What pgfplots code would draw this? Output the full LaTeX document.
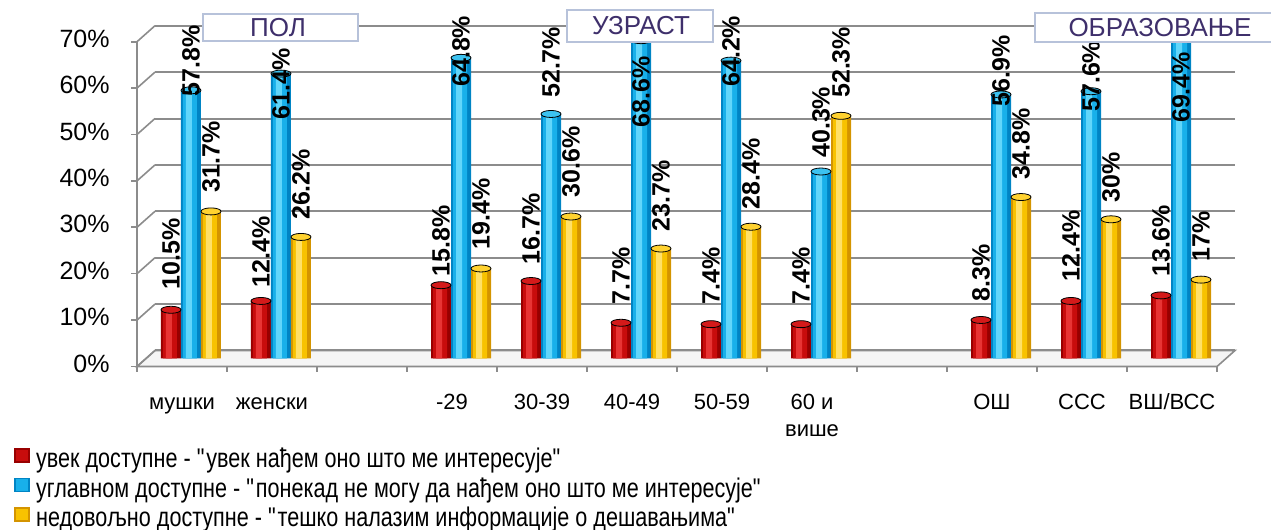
\documentclass[border=0pt]{standalone}
\usepackage{fontspec}
\setmainfont{Liberation Sans}
\newfontfamily\legfont{Liberation Sans}[FakeStretch=0.8]
\usepackage{pgfplots}
\usepackage{pgfplotstable}
\pgfplotsset{compat=1.18}

\definecolor{redE}{HTML}{980000}
\definecolor{redM}{HTML}{C80C0C}
\definecolor{redH}{HTML}{E83434}
\definecolor{redC}{HTML}{D41A1A}
\definecolor{bluE}{HTML}{0084C4}
\definecolor{bluM}{HTML}{18B0EA}
\definecolor{bluH}{HTML}{62D6FA}
\definecolor{bluC}{HTML}{3CC2F0}
\definecolor{yelE}{HTML}{D49400}
\definecolor{yelM}{HTML}{F8C200}
\definecolor{yelH}{HTML}{FFE068}
\definecolor{yelC}{HTML}{FFD230}
\definecolor{gridc}{HTML}{8C8C8C}
\definecolor{boxtxt}{HTML}{3E2F6B}
\definecolor{boxln}{HTML}{B7C2DA}

% values and label start heights (rl, bl, yl)
\pgfplotstableread{
x  red  blue  yellow  rl    bl    yl
0  10.5 57.8  31.7    14.8  56.4  35.7
1  12.4 61.4  26.2    15.2  51.4  29.8
3  15.8 64.8  19.4    17.6  58.5  23.4
4  16.7 52.7  30.6    20.2  56.1  34.6
5  7.7  68.6  23.7    11.5  49.7  27.3
6  7.4  64.2  28.4    11.5  58.5  32.0
7  7.4  40.3  52.3    11.5  43.2  56.1
9  8.3  56.9  34.8    12.2  54.2  38.5
10 12.4 57.6  30      16.5  53.1  33.5
11 13.6 69.4  17      17.6  50.7  20.9
}\datatable

\begin{document}
\begin{tikzpicture}
\begin{axis}[
    ,at={(0pt,0pt)}, anchor=south west
    ,scale only axis, width=540pt, height=162.4pt
    ,xmin=-0.5, xmax=11.5, ymin=0, ymax=70
    ,clip=false, set layers
    ,axis line style={draw=none}
    ,major tick length=0pt, tick style={draw=none}
    ,xtick={0,1,3,4,5,6,7,9,10,11}
    ,xticklabels={мушки,женски,-29,30-39,40-49,50-59,{60 и\\више},ОШ,ССС,ВШ/ВСС}
    ,typeset ticklabels with strut
    ,xticklabel style={align=center, font=\fontsize{11}{13.5}\selectfont, anchor=north, inner sep=0pt, xshift=-4.5pt, yshift=-16pt}
    ,ytick={0,10,20,30,40,50,60,70}
    ,yticklabels={0\%,10\%,20\%,30\%,40\%,50\%,60\%,70\%}
    ,yticklabel style={font=\fontsize{12.5}{14}\selectfont, anchor=east, inner sep=0pt, xshift=-18pt, yshift=-4pt}
    ,/pgf/number format/assume math mode=true
    ,legend cell align=left
    ,legend style={at={(-0.1222,-0.2695)}, anchor=north west, draw=none, fill=none,
        inner sep=0pt, row sep=0pt, font=\legfont\fontsize{13.5}{14.75}\selectfont,
        nodes={inner sep=0pt, text depth=4pt, text height=10.75pt}}
    ,bar width=10pt
    ]
    % floor and walls
    \filldraw[fill=black!4, draw=gridc, line width=0.8pt, on layer=axis background]
        ([shift={(-4.5pt,-4pt)}]axis cs:-0.5,0) -- ([shift={(-4.5pt,-4pt)}]axis cs:11.5,0)
        -- ([shift={(4.5pt,4pt)}]axis cs:11.5,0) -- ([shift={(4.5pt,4pt)}]axis cs:-0.5,0) -- cycle;
    \pgfplotsinvokeforeach{0,10,20,30,40,50,60,70}{
        \draw[gridc, line width=1pt, on layer=axis background]
            ([shift={(4.5pt,4pt)}]axis cs:-0.5,#1) -- ([shift={(4.5pt,4pt)}]axis cs:11.5,#1);
        \draw[gridc, line width=0.8pt, on layer=axis background]
            ([shift={(-4.5pt,-4pt)}]axis cs:-0.5,#1) -- ([shift={(4.5pt,4pt)}]axis cs:-0.5,#1);
        \draw[gridc, line width=0.8pt, on layer=axis background]
            ([shift={(-4.5pt,-4pt)}]axis cs:-0.5,#1) -- ++(-3pt,0pt);
    }
    \draw[gridc, line width=0.8pt, on layer=axis background]
        ([shift={(-4.5pt,-4pt)}]axis cs:-0.5,0) -- ([shift={(-4.5pt,-4pt)}]axis cs:-0.5,70);
    \pgfplotsinvokeforeach{-0.5,0.5,1.5,2.5,3.5,4.5,5.5,6.5,7.5,8.5,9.5,10.5,11.5}{
        \draw[gridc, line width=0.8pt, on layer=axis background]
            ([shift={(-4.5pt,-4pt)}]axis cs:#1,0) -- ++(0pt,-3pt);
    }

    % bars: dark body, then narrower lighter strips for the cylinder look
    \addplot[ybar, bar shift=-10pt, draw=none, fill=redE,
        legend image code/.code={\draw[fill=redM, draw=redE, line width=0.7pt] (0pt,-0.5pt) rectangle (7pt,6pt); \path (10.5pt,0pt);}]
        table[x=x, y=red] {\datatable};
    \addlegendentry{увек доступне - \textquotedbl увек нађем оно што ме интересује\textquotedbl}
    \addplot[ybar, bar shift=0pt, draw=none, fill=bluE,
        legend image code/.code={\draw[fill=bluM, draw=bluE, line width=0.7pt] (0pt,-0.5pt) rectangle (7pt,6pt); \path (10.5pt,0pt);}]
        table[x=x, y=blue] {\datatable};
    \addlegendentry{углавном доступне - \textquotedbl понекад не могу да нађем оно што ме интересује\textquotedbl}
    \addplot[ybar, bar shift=10pt, draw=none, fill=yelE,
        legend image code/.code={\draw[fill=yelM, draw=yelE, line width=0.7pt] (0pt,-0.5pt) rectangle (7pt,6pt); \path (10.5pt,0pt);}]
        table[x=x, y=yellow] {\datatable};
    \addlegendentry{недовољно доступне - \textquotedbl тешко налазим информације о дешавањима\textquotedbl}

    \addplot[forget plot, ybar, bar width=7pt, bar shift=-10.5pt, draw=none, fill=redM] table[x=x, y=red] {\datatable};
    \addplot[forget plot, ybar, bar width=3pt, bar shift=-11pt, draw=none, fill=redH] table[x=x, y=red] {\datatable};
    \addplot[forget plot, ybar, bar width=7pt, bar shift=-0.5pt, draw=none, fill=bluM] table[x=x, y=blue] {\datatable};
    \addplot[forget plot, ybar, bar width=3pt, bar shift=-1pt, draw=none, fill=bluH] table[x=x, y=blue] {\datatable};
    \addplot[forget plot, ybar, bar width=7pt, bar shift=9.5pt, draw=none, fill=yelM] table[x=x, y=yellow] {\datatable};
    \addplot[forget plot, ybar, bar width=3pt, bar shift=9pt, draw=none, fill=yelH] table[x=x, y=yellow] {\datatable};

    % cylinder tops
    \addplot[forget plot, only marks, mark=*, mark size=5pt, mark options={draw=none, fill=redC, yscale=0.35}]
        table[x expr=\thisrow{x}-0.2222, y=red] {\datatable};
    \addplot[forget plot, only marks, mark=*, mark size=5pt, mark options={draw=none, fill=bluC, yscale=0.35}]
        table[x=x, y=blue] {\datatable};
    \addplot[forget plot, only marks, mark=*, mark size=5pt, mark options={draw=none, fill=yelC, yscale=0.35}]
        table[x expr=\thisrow{x}+0.2222, y=yellow] {\datatable};

    % value labels
    \pgfplotsset{lbl/.style={forget plot, draw=none, mark=none, point meta=explicit,
        nodes near coords={\pgfmathprintnumber{\pgfplotspointmeta}\%},
        nodes near coords style={rotate=90, anchor=west, inner sep=0pt,
            font=\fontsize{12.5}{14}\selectfont\bfseries}}}
    \addplot[lbl] table[x expr=\thisrow{x}-0.2222, y=rl, meta=red] {\datatable};
    \addplot[lbl] table[x=x, y=bl, meta=blue] {\datatable};
    \addplot[lbl] table[x expr=\thisrow{x}+0.2222, y=yl, meta=yellow] {\datatable};
\end{axis}

% section headers
\begin{scope}[font=\fontsize{13}{15}\selectfont, text=boxtxt]
    \filldraw[fill=white, draw=boxln, line width=1pt] (28.5pt,158.75pt) rectangle (106pt,172.25pt);
    \node at (66pt,165.5pt) {ПОЛ};
    \filldraw[fill=white, draw=boxln, line width=1pt] (210.5pt,158.25pt) rectangle (283.5pt,174.25pt);
    \node at (247.5pt,166.25pt) {УЗРАСТ};
    \filldraw[fill=white, draw=boxln, line width=1pt] (444.5pt,158.25pt) rectangle (566pt,172.75pt);
    \node at (507pt,165.5pt) {ОБРАЗОВАЊЕ};
\end{scope}
\pgfresetboundingbox
\path[use as bounding box] (-73pt,-85.75pt) rectangle (562.5pt,179.25pt);
\end{tikzpicture}
\end{document}
